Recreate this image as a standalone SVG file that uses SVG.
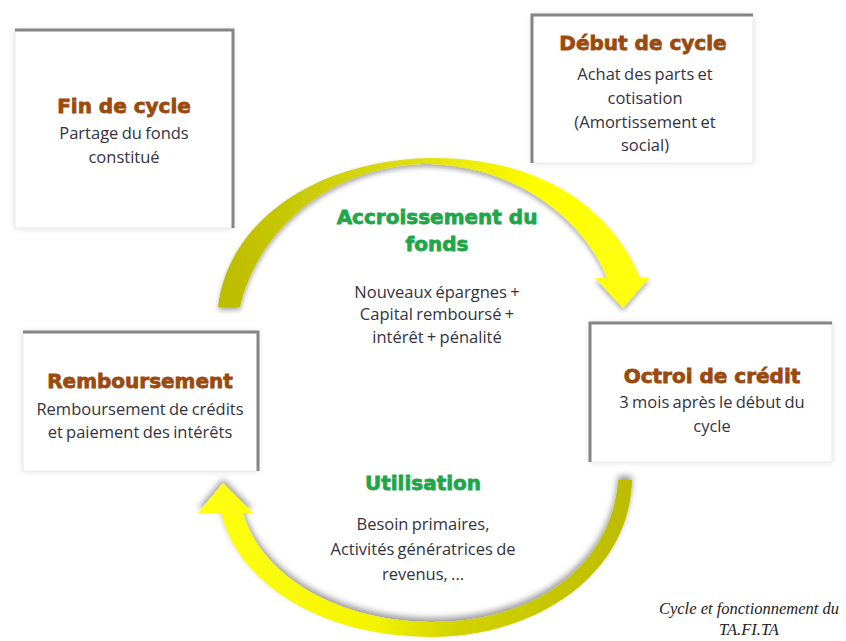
<svg xmlns="http://www.w3.org/2000/svg" width="846" height="641" viewBox="0 0 846 641">
<defs>
<linearGradient id="gTop" gradientUnits="userSpaceOnUse" x1="220" y1="0" x2="650" y2="0">
<stop offset="0" stop-color="#bcbc00"/>
<stop offset="0.45" stop-color="#dede10"/>
<stop offset="0.75" stop-color="#ffff00"/>
<stop offset="1" stop-color="#ffff10"/>
</linearGradient>
<linearGradient id="gBot" gradientUnits="userSpaceOnUse" x1="200" y1="0" x2="632" y2="0">
<stop offset="0" stop-color="#ffff10"/>
<stop offset="0.4" stop-color="#f4f400"/>
<stop offset="0.6" stop-color="#d2d200"/>
<stop offset="1" stop-color="#bcbc00"/>
</linearGradient>
<filter id="shTop" x="-10%" y="-10%" width="120%" height="130%">
<feDropShadow dx="0" dy="3" stdDeviation="2.5" flood-color="#000" flood-opacity="0.35"/>
</filter>
<filter id="shBot" x="-10%" y="-20%" width="120%" height="140%">
<feDropShadow dx="0" dy="-4" stdDeviation="3" flood-color="#000" flood-opacity="0.4"/>
</filter>
<filter id="glow" x="-10%" y="-10%" width="120%" height="120%">
<feDropShadow dx="0" dy="0" stdDeviation="3" flood-color="#000" flood-opacity="0.12"/>
</filter>
<filter id="soft" x="-5%" y="-5%" width="110%" height="110%">
<feGaussianBlur stdDeviation="0.6"/>
</filter>
</defs>
<style>
.box{fill:#fff;stroke:#e6e6e6;stroke-width:1;filter:url(#glow)}
.edge{fill:none;stroke:#858585;stroke-width:3;filter:url(#soft)}
.title{font-family:"DejaVu Sans",sans-serif;font-weight:bold;font-size:20px;fill:#9a4a0e;stroke:#9a4a0e;stroke-width:0.8;text-anchor:middle}
.gtitle{font-family:"DejaVu Sans",sans-serif;font-weight:bold;font-size:20px;fill:#1fa64a;stroke:#1fa64a;stroke-width:0.8;text-anchor:middle}
.body{font-family:"Open Sans","Noto Sans",sans-serif;font-size:16.5px;fill:#333340;text-anchor:middle;word-spacing:-1px}
.cap{font-family:"Liberation Serif",serif;font-style:italic;font-size:16.5px;fill:#222;text-anchor:middle}
</style>
<rect width="846" height="641" fill="#fff"/>

<g id="connectors">
<path id="arc-top" filter="url(#shTop)" fill="url(#gTop)" d="M218,307 C228,220 318,160 430,158 C530,157 608,200 640,278 L650,277 L623,308 L595,278 L607,278 C585,222 520,167 430,164 C340,163 260,222 240,307 Z"/>
<path id="arc-bot" filter="url(#shBot)" fill="url(#gBot)" d="M632,480 C630,572 540,637 430,637 C330,637 240,590 221,513 L198,513 L223,483 L253,513 L243,513 C262,578 340,621 430,622 C532,623 612,568 618,480 Z"/>
</g>

<g id="node-fin">
<rect class="box" x="15" y="30" width="218" height="198"/>
<path class="edge" d="M15,30 L233,30 L233,228"/>
<text class="title" x="124" y="113">Fin de cycle</text>
<text class="body" x="124" y="139">Partage du fonds</text>
<text class="body" x="124" y="163">constitué</text>
</g>

<g id="node-debut">
<rect class="box" x="532" y="15" width="221" height="148"/>
<path class="edge" d="M532,163 L532,15 L753,15"/>
<text class="title" x="643" y="50">Début de cycle</text>
<text class="body" x="645" y="80">Achat des parts et</text>
<text class="body" x="645" y="104">cotisation</text>
<text class="body" x="645" y="128">(Amortissement et</text>
<text class="body" x="645" y="151">social)</text>
</g>

<g id="node-accroissement">
<text class="gtitle" x="437" y="224">Accroissement du</text>
<text class="gtitle" x="437" y="251">fonds</text>
<text class="body" x="437" y="298">Nouveaux épargnes +</text>
<text class="body" x="437" y="320">Capital remboursé +</text>
<text class="body" x="437" y="343">intérêt  + pénalité</text>
</g>

<g id="node-remboursement">
<rect class="box" x="23" y="332" width="235" height="139"/>
<path class="edge" d="M23,332 L258,332 L258,471"/>
<text class="title" x="140" y="388">Remboursement</text>
<text class="body" x="140" y="415">Remboursement de crédits</text>
<text class="body" x="140" y="438">et paiement des intérêts</text>
</g>

<g id="node-octroi">
<rect class="box" x="590" y="323" width="242" height="139"/>
<path class="edge" d="M590,462 L590,323 L832,323"/>
<text class="title" x="712" y="383">Octroi de crédit</text>
<text class="body" x="712" y="408">3 mois après le début du</text>
<text class="body" x="712" y="432">cycle</text>
</g>

<g id="node-utilisation">
<text class="gtitle" x="423" y="490">Utilisation</text>
<text class="body" x="423" y="530">Besoin primaires,</text>
<text class="body" x="423" y="555">Activités génératrices de</text>
<text class="body" x="423" y="580">revenus, ...</text>
</g>

<g id="caption">
<text class="cap" x="749" y="614">Cycle et fonctionnement du</text>
<text class="cap" x="749" y="635">TA.FI.TA</text>
</g>
</svg>
